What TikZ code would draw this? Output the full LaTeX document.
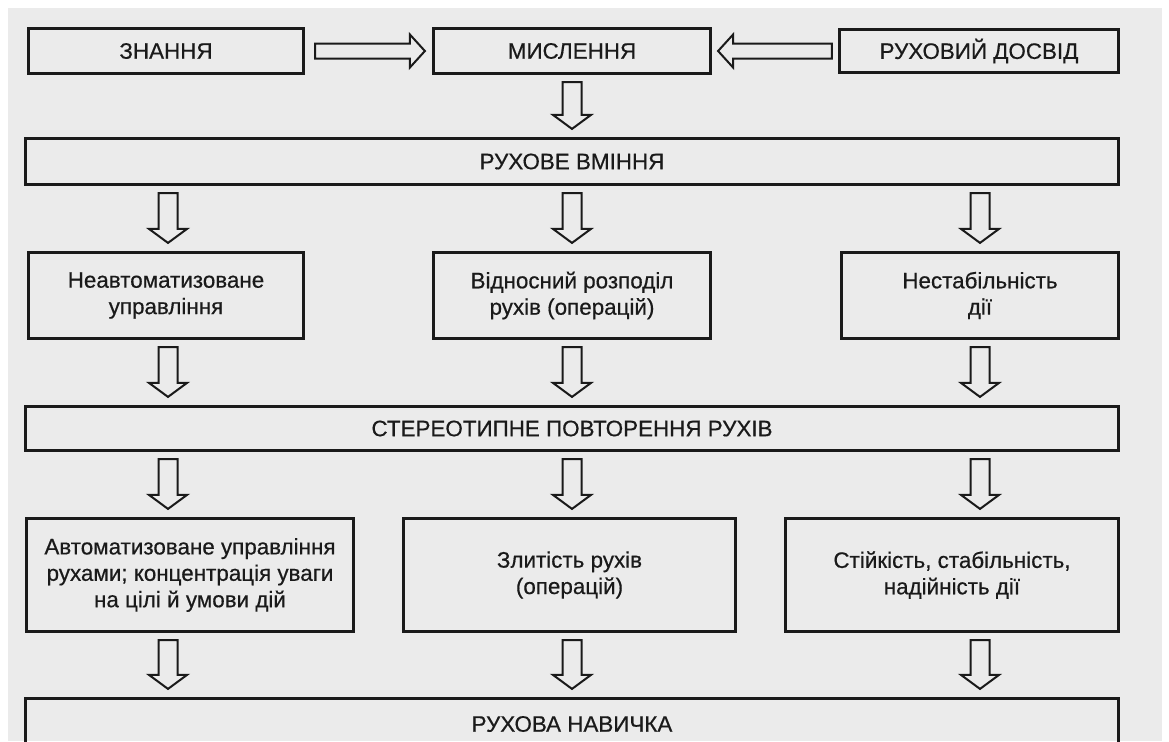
\documentclass[tikz,border=0pt]{standalone}
\usepackage{fontspec}
\setmainfont{Liberation Sans}
\newfontfamily\boxfont[FakeBold=0.5]{Liberation Sans}
\usetikzlibrary{calc}
\definecolor{page}{HTML}{EBEBEB}
\definecolor{ink}{HTML}{1A1A1A}
\newcommand{\vblk}[3]{% #1 column, #2 source node, #3 target node
  \coordinate (s) at ($(#2.south -| #1)+(0,7)$);
  \coordinate (t) at ($(#3.north -| #1)+(0,-8)$);
  \draw[blk] ($(s)+(-9.5,0)$) -- ($(s)+(9.5,0)$) -- ($(t)+(9.5,-14)$) -- ($(t)+(19,-14)$) -- (t)
    -- ($(t)+(-19,-14)$) -- ($(t)+(-9.5,-14)$) -- cycle;}
\newcommand{\hblk}[3]{% #1 start, #2 tip, #3 direction (1 right, -1 left)
  \draw[blk] ($(#1)+(0,-7.5)$) -- ($(#2)+(-15*#3,-7.5)$) -- ($(#2)+(-15*#3,-16.5)$) -- (#2)
    -- ($(#2)+(-15*#3,16.5)$) -- ($(#2)+(-15*#3,7.5)$) -- ($(#1)+(0,7.5)$) -- cycle;}
\begin{document}
\begin{tikzpicture}[x=0.5pt,y=-0.5pt,
  box/.style={draw=ink, line width=1.6pt, inner sep=0pt, align=center, text=ink,
    font=\boxfont\fontsize{11.2}{13.2}\selectfont},
  blk/.style={draw=ink, line width=1pt, line join=miter}]
\useasboundingbox (0,0) rectangle (1169,741);
\clip (0,0) rectangle (1169,741);
\fill[white] (0,0) rectangle (1169,741);
\fill[page] (8,8) rectangle (1162,741);
% columns
\coordinate (c1) at (168,0);
\coordinate (c2) at (572,0);
\coordinate (c3) at (980,0);
% row 1
\node[box, minimum width=137.5pt, minimum height=22.5pt] (zn) at (166,51) {ЗНАННЯ};
\node[box, minimum width=138.5pt, minimum height=22.5pt] (mys) at (572,51) {МИСЛЕННЯ};
\node[box, minimum width=139.5pt, minimum height=21.5pt] (dos) at (979,51) {РУХОВИЙ ДОСВІД};
% wide 1
\node[box, minimum width=546.5pt, minimum height=23pt] (rv) at (572,161.5) {РУХОВЕ ВМІННЯ};
% row 2
\node[box, minimum width=137.5pt, minimum height=43pt] (ne) at (166,295.5) {Неавтоматизоване\\управління};
\node[box, minimum width=138.5pt, minimum height=43pt] (vid) at (572,295.5) {Відносний розподіл\\рухів (операцій)};
\node[box, minimum width=138.5pt, minimum height=43pt] (nest) at (980,295.5) {Нестабільність\\дії};
% wide 2
\node[box, minimum width=546.5pt, minimum height=22pt] (ster) at (572,428.5) {СТЕРЕОТИПНЕ ПОВТОРЕННЯ РУХІВ};
% row 3
\node[box, minimum width=163.5pt, minimum height=56.5pt] (avt) at (190,575) {Автоматизоване управління\\рухами; концентрація уваги\\на цілі й умови дій};
\node[box, minimum width=166pt, minimum height=56.5pt] (zl) at (569.5,575) {Злитість рухів\\(операцій)};
\node[box, minimum width=166.5pt, minimum height=56.5pt] (st) at (952,575) {Стійкість, стабільність,\\надійність дії};
% wide 3
\node[box, minimum width=546.5pt, minimum height=25.5pt] (nav) at (572,724) {РУХОВА НАВИЧКА};
% horizontal arrows
\coordinate (a1s) at ($(zn.east)+(10,0)$);
\coordinate (a1t) at ($(mys.west)+(-7,0)$);
\hblk{a1s}{a1t}{1}
\coordinate (a2s) at ($(dos.west)+(-6,0)$);
\coordinate (a2t) at ($(mys.east)+(6,0)$);
\hblk{a2s}{a2t}{-1}
% vertical arrows
\vblk{c2}{mys}{rv}
\vblk{c1}{rv}{ne}
\vblk{c2}{rv}{vid}
\vblk{c3}{rv}{nest}
\vblk{c1}{ne}{ster}
\vblk{c2}{vid}{ster}
\vblk{c3}{nest}{ster}
\vblk{c1}{ster}{avt}
\vblk{c2}{ster}{zl}
\vblk{c3}{ster}{st}
\vblk{c1}{avt}{nav}
\vblk{c2}{zl}{nav}
\vblk{c3}{st}{nav}
\end{tikzpicture}
\end{document}
